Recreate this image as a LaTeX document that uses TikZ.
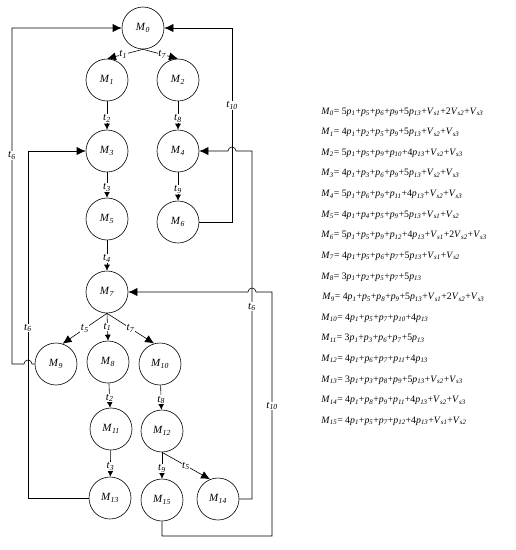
\documentclass[tikz,border=0pt]{standalone}
\usepackage{fontspec}
\setmainfont{Liberation Serif}
\usetikzlibrary{arrows.meta}
\newcommand\Mn[1]{\textit{M}\textsubscript{\textit{#1}}}
\newcommand\tn[1]{\textit{t}\textsubscript{\textit{#1}}}
\newcommand\pn[1]{\textit{p}\textsubscript{\textit{#1}}}
\newcommand\Vn[1]{\textit{V}\textsubscript{\textit{s#1}}}
\begin{document}
\begin{tikzpicture}[x=1pt,y=-1pt,line width=0.6pt,
  state/.style={circle,draw,minimum size=42pt,inner sep=0pt,font=\fontsize{11}{13}\selectfont},
  arr/.style={-{Latex[length=9pt,width=8pt]}},
  sarr/.style={-{Latex[length=6pt,width=6pt]}},
  lab/.style={fill=white,inner sep=0.5pt,font=\fontsize{11}{13}\selectfont},
  eq/.style={anchor=west,inner sep=0pt,font=\fontsize{9.8}{12}\selectfont}]
\useasboundingbox (0,0) rectangle (516,550);
% states
\node[state] (M0) at (143,28) {\Mn{0}};
\node[state] (M1) at (107,80) {\Mn{1}};
\node[state] (M2) at (178,80) {\Mn{2}};
\node[state] (M3) at (107,151) {\Mn{3}};
\node[state] (M4) at (178,151) {\Mn{4}};
\node[state] (M5) at (107,219) {\Mn{5}};
\node[state] (M6) at (178,222) {\Mn{6}};
\node[state] (M7) at (107,292) {\Mn{7}};
\node[state] (M9) at (56,364) {\Mn{9}};
\node[state] (M8) at (108,362) {\Mn{8}};
\node[state] (M10) at (160,364) {\Mn{10}};
\node[state] (M11) at (111,429) {\Mn{11}};
\node[state] (M12) at (162,431) {\Mn{12}};
\node[state] (M13) at (110,498) {\Mn{13}};
\node[state] (M15) at (162,500) {\Mn{15}};
\node[state] (M14) at (218,499) {\Mn{14}};
% inner transitions
\draw[arr] (M0.south) -- node[lab,pos=0.55]{\tn{1}} (M1.north);
\draw[arr] (M0.south) -- node[lab,pos=0.55]{\tn{7}} (M2.north);
\draw[sarr] (M1) -- node[lab,pos=0.6]{\tn{2}} (M3);
\draw[sarr] (M2) -- node[lab,pos=0.6]{\tn{8}} (M4);
\draw[sarr] (M3) -- node[lab,pos=0.6]{\tn{3}} (M5);
\draw[sarr] (M4) -- node[lab,pos=0.6]{\tn{9}} (M6);
\draw[sarr] (M5) -- node[lab,pos=0.6]{\tn{4}} (M7);
\draw[arr] (M7.south) -- node[lab]{\tn{5}} (M9.72);
\draw[sarr] (M7.south) -- node[lab]{\tn{1}} (M8.north);
\draw[arr] (M7.south) -- node[lab]{\tn{7}} (M10.106);
\draw[sarr] (M8) -- node[lab,pos=0.6]{\tn{2}} (M11);
\draw[sarr] (M10) -- node[lab,pos=0.6]{\tn{8}} (M12);
\draw[sarr] (M11) -- node[lab,pos=0.6]{\tn{3}} (M13);
\draw[sarr] (M12) -- node[lab,pos=0.6]{\tn{9}} (M15);
\draw[arr] (M12.south) -- node[lab]{\tn{5}} (M14.112);
% outer return transitions
\draw[arr] (M9.west) -- (32,364) arc[start angle=0,end angle=180,radius=4pt]
  -- (12,364) -- node[lab,pos=0.62]{\tn{6}} (12,28) -- (M0.west);
\draw[arr] (M13.west) -| node[lab,pos=0.745]{\tn{6}} (28,151) -- (M3.west);
\draw[arr] (M6.east) -| node[lab,pos=0.8]{\tn{10}} (232,28) -- (M0.east);
\draw[arr] (M14.east) -| node[lab,pos=0.776]{\tn{6}} (252,151) -- (236,151)
  arc[start angle=0,end angle=180,radius=4pt] -- (M4.east);
\draw[arr] (M15.south) |- (272,536) -- (272,406) node[lab]{\tn{10}} -- (272,292) -- (256,292)
  arc[start angle=0,end angle=180,radius=4pt] -- (M7.east);
% markings
\node[eq] (e0) at (321,112) {\Mn{0}= 5\pn{1}+\pn{5}+\pn{6}+\pn{9}+5\pn{13}+\Vn{1}+2\Vn{2}+\Vn{3}};
\node[eq] (e1) at (321,132.6) {\Mn{1}= 4\pn{1}+\pn{2}+\pn{5}+\pn{9}+5\pn{13}+\Vn{2}+\Vn{3}};
\node[eq] (e2) at (321,153.2) {\Mn{2}= 5\pn{1}+\pn{5}+\pn{9}+\pn{10}+4\pn{13}+\Vn{2}+\Vn{3}};
\node[eq] (e3) at (321,173.8) {\Mn{3}= 4\pn{1}+\pn{3}+\pn{6}+\pn{9}+5\pn{13}+\Vn{2}+\Vn{3}};
\node[eq] (e4) at (321,194.4) {\Mn{4}= 5\pn{1}+\pn{6}+\pn{9}+\pn{11}+4\pn{13}+\Vn{2}+\Vn{3}};
\node[eq] (e5) at (321,215) {\Mn{5}= 4\pn{1}+\pn{4}+\pn{5}+\pn{9}+5\pn{13}+\Vn{1}+\Vn{2}};
\node[eq] (e6) at (321,235.6) {\Mn{6}= 5\pn{1}+\pn{5}+\pn{9}+\pn{12}+4\pn{13}+\Vn{1}+2\Vn{2}+\Vn{3}};
\node[eq] (e7) at (321,256.2) {\Mn{7}= 4\pn{1}+\pn{5}+\pn{6}+\pn{7}+5\pn{13}+\Vn{1}+\Vn{2}};
\node[eq] (e8) at (321,276.8) {\Mn{8}= 3\pn{1}+\pn{2}+\pn{5}+\pn{7}+5\pn{13}};
\node[eq] (e9) at (322,297.4) {\Mn{9}= 4\pn{1}+\pn{5}+\pn{8}+\pn{9}+5\pn{13}+\Vn{1}+2\Vn{2}+\Vn{3}};
\node[eq] (e10) at (321,318) {\Mn{10}= 4\pn{1}+\pn{5}+\pn{7}+\pn{10}+4\pn{13}};
\node[eq] (e11) at (321,338.6) {\Mn{11}= 3\pn{1}+\pn{3}+\pn{6}+\pn{7}+5\pn{13}};
\node[eq] (e12) at (321,359.2) {\Mn{12}= 4\pn{1}+\pn{6}+\pn{7}+\pn{11}+4\pn{13}};
\node[eq] (e13) at (321,379.8) {\Mn{13}= 3\pn{1}+\pn{3}+\pn{8}+\pn{9}+5\pn{13}+\Vn{2}+\Vn{3}};
\node[eq] (e14) at (321,400.4) {\Mn{14}= 4\pn{1}+\pn{8}+\pn{9}+\pn{11}+4\pn{13}+\Vn{2}+\Vn{3}};
\node[eq] (e15) at (321,421) {\Mn{15}= 4\pn{1}+\pn{5}+\pn{7}+\pn{12}+4\pn{13}+\Vn{1}+\Vn{2}};
\end{tikzpicture}
\end{document}
